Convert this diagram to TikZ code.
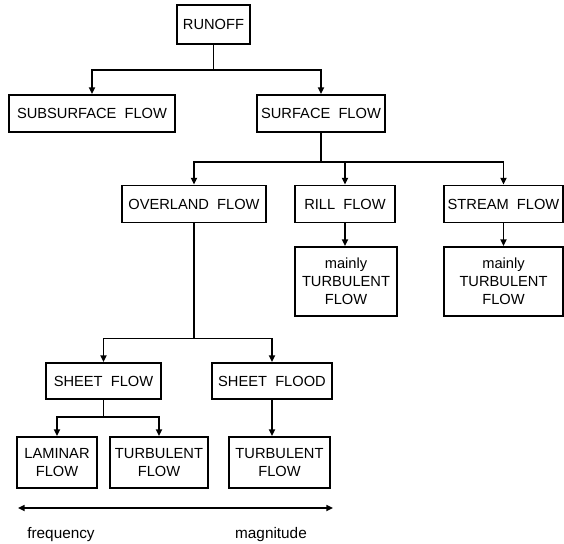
\documentclass[tikz,border=0pt]{standalone}
\usepackage{fontspec}
\setmainfont{Liberation Sans}
\usetikzlibrary{arrows.meta}

\begin{document}
\begin{tikzpicture}[x=0.75pt,y=-0.75pt,
  flowbox/.style={draw,line width=1.3pt,inner sep=1pt,align=center,font=\fontsize{11}{13.5}\selectfont},
  link/.style={line width=1.2pt,-{Triangle[length=5pt,width=4.5pt]}},
  scalearrow/.style={line width=1.2pt,{Triangle[length=5pt,width=4.5pt]}-{Triangle[length=5pt,width=4.5pt]}}]
  \useasboundingbox (0,0) rectangle (564,543);

  \node[flowbox,minimum width=54.75pt,minimum height=29.25pt] (runoff) at (213.5,24.5) {RUNOFF};

  \node[flowbox,minimum width=124.5pt,minimum height=27.75pt] (subsurface) at (92,113.5) {SUBSURFACE\ \ FLOW};
  \node[flowbox,minimum width=96pt,minimum height=27.75pt] (surface) at (321,113.5) {SURFACE\ \ FLOW};

  \node[flowbox,minimum width=108pt,minimum height=27.75pt] (overland) at (194,204) {OVERLAND\ \ FLOW};
  \node[flowbox,minimum width=75pt,minimum height=27.75pt] (rill) at (345,204) {RILL\ \ FLOW};
  \node[flowbox,minimum width=89.25pt,minimum height=27.75pt] (stream) at (503.5,204) {STREAM\ \ FLOW};

  \node[flowbox,minimum width=76.5pt,minimum height=51.75pt] (rillturb) at (346,281.5) {mainly\\TURBULENT\\FLOW};
  \node[flowbox,minimum width=89.25pt,minimum height=51.75pt] (streamturb) at (503.5,281.5) {mainly\\TURBULENT\\FLOW};

  \node[flowbox,minimum width=86.25pt,minimum height=27pt] (sheetflow) at (103.5,381) {SHEET\ \ FLOW};
  \node[flowbox,minimum width=90pt,minimum height=27pt] (sheetflood) at (272,381) {SHEET\ \ FLOOD};

  \node[flowbox,minimum width=60pt,minimum height=38.25pt] (laminar) at (57,462.5) {LAMINAR\\FLOW};
  \node[flowbox,minimum width=73.5pt,minimum height=38.25pt] (turbA) at (159,462.5) {TURBULENT\\FLOW};
  \node[flowbox,minimum width=75.75pt,minimum height=38.25pt] (turbB) at (279.5,462.5) {TURBULENT\\FLOW};

  \draw[link] (runoff.south) -- ++(0,25) -| (subsurface.north);
  \draw[link] (runoff.south) -- ++(0,25) -| (surface.north);

  \draw[link] (surface.south) -- ++(0,29) -| (overland.north);
  \draw[link] (surface.south) -- ++(0,29) -| (rill.north);
  \draw[link] (surface.south) -- ++(0,29) -| (stream.north);

  \draw[link] (rill.south) -- (rill.south |- rillturb.north);
  \draw[link] (stream.south) -- (stream.south |- streamturb.north);

  \draw[link] (overland.south) -- ++(0,115) -| (sheetflow.north);
  \draw[link] (overland.south) -- ++(0,115) -| (sheetflood.north);

  \draw[link] (sheetflow.south) -- ++(0,17) -| (laminar.north);
  \draw[link] (sheetflow.south) -- ++(0,17) -| (turbA.north);
  \draw[link] (sheetflood.south) -- (sheetflood.south |- turbB.north);

  \coordinate (freqend) at (18,508);
  \coordinate (magnend) at (333,508);
  \draw[scalearrow] (freqend) -- (magnend);
  \node[font=\fontsize{11.5}{13.5}\selectfont] (freq) at (61,535) {frequency};
  \node[font=\fontsize{11.5}{13.5}\selectfont] (magn) at (271,535) {magnitude};
\end{tikzpicture}
\end{document}
